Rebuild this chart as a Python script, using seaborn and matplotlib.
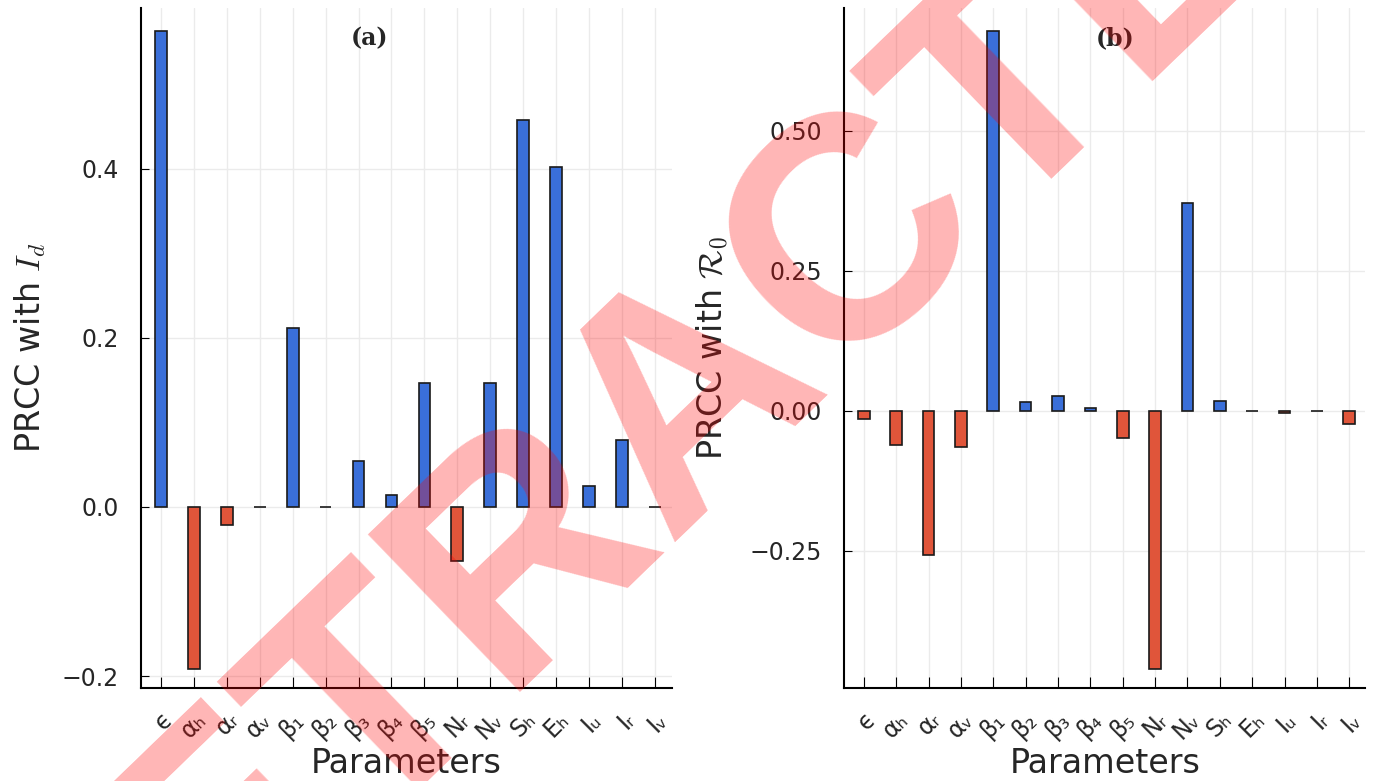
import matplotlib
matplotlib.use("Agg")
import matplotlib.pyplot as plt
import seaborn as sns
import pandas as pd
import numpy as np

# ====== Data ======
params = ["ϵ", "αₕ", "αᵣ", "αᵥ", "β₁", "β₂", "β₃", "β₄", "β₅",
          "Nᵣ", "Nᵥ", "Sₕ", "Eₕ", "Iᵤ", "Iᵣ", "Iᵥ"]
prcc_Id = [0.563, -0.192, -0.021, 0.0, 0.211, 0.0, 0.054, 0.014, 0.146,
           -0.064, 0.146, 0.457, 0.402, 0.025, 0.079, 0.0]
prcc_R0 = [-0.014, -0.061, -0.257, -0.064, 0.679, 0.016, 0.027, 0.005, -0.048,
           -0.461, 0.371, 0.018, -0.001, -0.003, -0.001, -0.023]

blue = "#3a6fd9"
red = "#e0553a"

sns.set_style("whitegrid")
plt.rcParams['font.family'] = ['DejaVu Sans']
plt.rcParams['mathtext.fontset'] = 'cm'

fig = plt.figure(figsize=(13.82, 7.81), dpi=100)
ax1 = fig.add_axes([0.102, 0.119, 0.384, 0.871])
ax2 = fig.add_axes([0.611, 0.119, 0.377, 0.871])


def panel(ax, vals, ylabel, ylim, yticks, fmt, tag, tagx, ylab_x):
    df = pd.DataFrame({"param": params, "prcc": vals})
    cols = [blue if v > 0 else red for v in vals]
    sns.barplot(data=df, x="param", y="prcc", hue="param", palette=cols,
                legend=False, width=0.36, edgecolor="#1a1a1a", linewidth=1.2,
                saturation=1, ax=ax)
    ax.set_xlim(-0.6, 15.5)
    ax.set_ylim(*ylim)
    ax.set_yticks(yticks)
    ax.set_yticklabels([fmt.format(t).replace("-", "\u2212") for t in yticks])
    ax.tick_params(axis="y", labelsize=17, direction="in", length=6,
                   left=True, color="black", pad=16)
    ax.tick_params(axis="x", labelsize=17, direction="in", length=8,
                   bottom=True, color="black", rotation=45, pad=14)
    for lab in ax.get_xticklabels():
        lab.set_ha("right")
        lab.set_rotation_mode("anchor")
    ax.grid(True, color="#ebebeb", linewidth=1)
    for s in ["top", "right"]:
        ax.spines[s].set_visible(False)
    for s in ["left", "bottom"]:
        ax.spines[s].set_color("black")
        ax.spines[s].set_linewidth(1.5)
    ax.set_xlabel("Parameters", fontsize=24)
    ax.set_ylabel(ylabel, fontsize=24)
    ax.xaxis.set_label_coords(0.5, -0.086)
    ax.yaxis.set_label_coords(ylab_x, 0.5)
    ax.text(tagx, 0.955, tag, transform=ax.transAxes, fontsize=17,
            fontweight="bold", family="DejaVu Serif", ha="center", va="center")


panel(ax1, prcc_Id, r"PRCC with $I_d$", (-0.214, 0.59), [-0.2, 0.0, 0.2, 0.4],
      "{:.1f}", "(a)", 0.43, -0.175)
panel(ax2, prcc_R0, r"PRCC with $\mathcal{R}_0$", (-0.495, 0.72),
      [-0.25, 0.0, 0.25, 0.5], "{:.2f}", "(b)", 0.52, -0.22)

# watermark
fig.text(0.4995, 0.4956, "RETRACTED", fontsize=228, fontweight="bold",
         family="Liberation Sans", color="red", alpha=0.29, rotation=44,
         ha="center", va="center")

fig.savefig("out.png", dpi=100)
